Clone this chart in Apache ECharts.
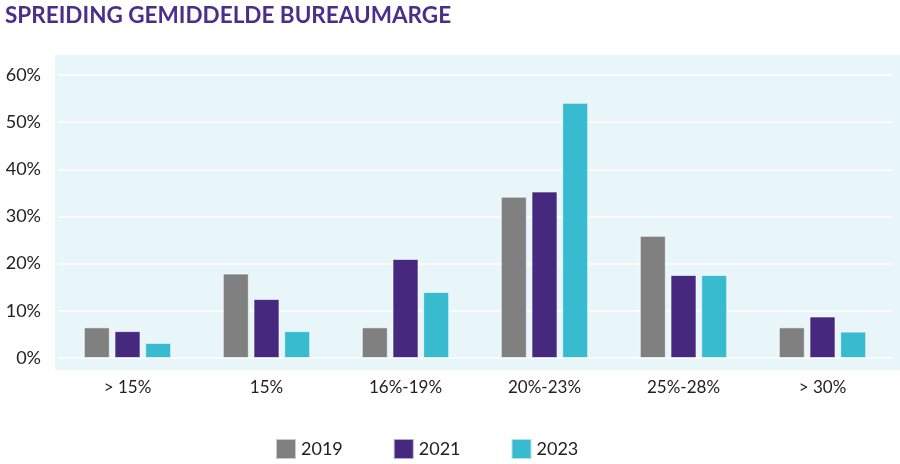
<!DOCTYPE html>
<html>
<head>
<meta charset="utf-8">
<script src="https://cdn.jsdelivr.net/npm/echarts@6/dist/echarts.min.js"></script>
<style>
  html, body { margin: 0; padding: 0; background: #fff; }
  #chart { width: 900px; height: 464px; }
</style>
</head>
<body>
<div id="chart"></div>
<script>
  // categorieen en waarden (in %)
  var categories = ['> 15%', '15%', '16%-19%', '20%-23%', '25%-28%', '> 30%'];
  var years = ['2019', '2021', '2023'];
  var values2019 = [6.5, 17.9, 6.5, 34.2, 25.9, 6.5];
  var values2021 = [5.7, 12.5, 21.0, 35.3, 17.6, 8.8];
  var values2023 = [3.2, 5.7, 14.0, 54.1, 17.6, 5.6];
  var colors = ['#808080', '#47287f', '#38bbcf'];

  var chart = echarts.init(document.getElementById('chart'));

  var font = 'Lato, "Open Sans", sans-serif';

  function bar(name, data, color) {
    return {
      name: name,
      type: 'bar',
      data: data,
      barWidth: 26,
      barGap: '18%',
      itemStyle: { color: color, borderColor: 'rgba(255,255,255,0.6)', borderWidth: 1 }
    };
  }

  var option = {
    animation: false,
    textStyle: { fontFamily: font },
    title: {
      text: 'SPREIDING GEMIDDELDE BUREAUMARGE',
      left: 0,
      top: -1,
      textStyle: { color: '#4b2d8a', fontSize: 22.5, fontWeight: 'bold', fontFamily: font }
    },
    graphic: [{
      type: 'rect',
      left: 55,
      top: 55,
      z: -1,
      shape: { width: 845, height: 315 },
      style: { fill: '#e9f6f9' }
    }],
    grid: { left: 58, right: 8, top: 75, bottom: 106, containLabel: false },
    legend: {
      data: years,
      top: 433,
      left: 270,
      itemWidth: 20,
      itemHeight: 20,
      itemGap: 50,
      icon: 'rect',
      textStyle: { fontSize: 18, color: '#222', fontFamily: font }
    },
    xAxis: {
      type: 'category',
      data: categories,
      axisLine: { show: false },
      axisTick: { show: false },
      axisLabel: { color: '#222', fontSize: 17, margin: 21 }
    },
    yAxis: {
      type: 'value',
      min: 0,
      max: 60,
      interval: 10,
      axisLabel: { formatter: '{value}%', color: '#222', fontSize: 18, margin: 17 },
      splitLine: { lineStyle: { color: '#ffffff', width: 1.5 } },
      axisLine: { show: false },
      axisTick: { show: false }
    },
    series: [
      bar(years[0], values2019, colors[0]),
      bar(years[1], values2021, colors[1]),
      bar(years[2], values2023, colors[2])
    ]
  };

  option && chart.setOption(option);
</script>
</body>
</html>
